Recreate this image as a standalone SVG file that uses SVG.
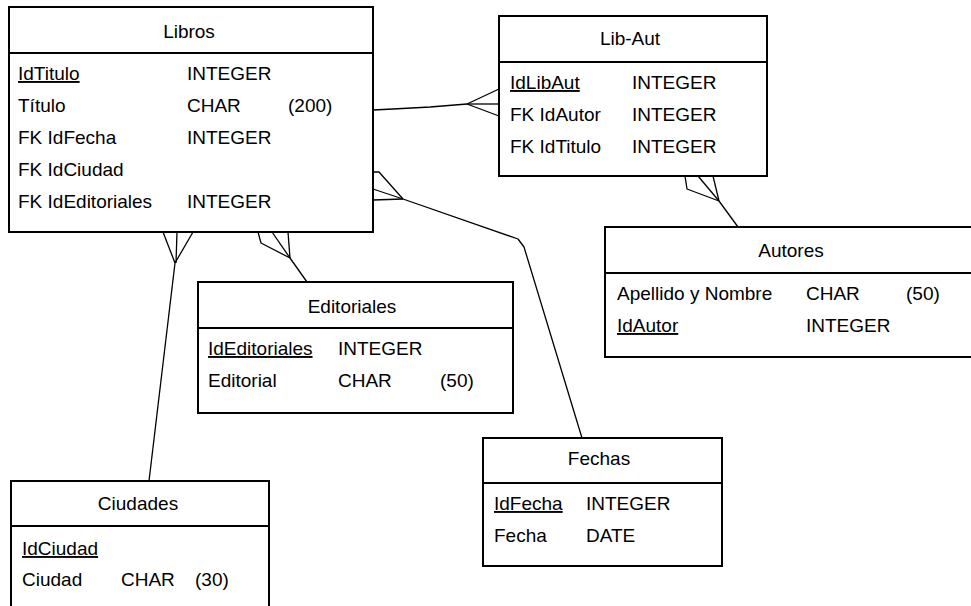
<svg xmlns="http://www.w3.org/2000/svg" width="971" height="606" viewBox="0 0 971 606">
<style>
.box{fill:#fff;stroke:#000;stroke-width:2}
.sep{stroke:#000;stroke-width:2}
.t{font-family:"Liberation Sans",Arial,sans-serif;font-size:19px;fill:#000}
.c{text-anchor:middle}
.pk{text-decoration:underline}
.cn{fill:none;stroke:#000;stroke-width:1.3;stroke-linejoin:round}
</style>
<rect width="971" height="606" fill="#fff"/>
<g id="connectors">
  <!-- Libros - Lib-Aut -->
  <polyline class="cn" points="373,110 393,109 430,107 467,104"/>
  <line class="cn" x1="467" y1="104" x2="499" y2="89"/>
  <line class="cn" x1="467" y1="104" x2="499" y2="104"/>
  <line class="cn" x1="467" y1="104" x2="499" y2="116"/>
  <!-- Lib-Aut - Autores -->
  <polyline class="cn" points="685,176 687,189 719,201"/>
  <line class="cn" x1="698" y1="176" x2="719" y2="201"/>
  <line class="cn" x1="713" y1="176" x2="719" y2="201"/>
  <line class="cn" x1="719" y1="201" x2="738" y2="227"/>
  <!-- Libros - Fechas -->
  <polyline class="cn" points="373,172 379,172 403,199"/>
  <line class="cn" x1="373" y1="189" x2="403" y2="199"/>
  <line class="cn" x1="373" y1="200" x2="403" y2="199"/>
  <polyline class="cn" points="403,199 518,239 524,247 582,438"/>
  <!-- Libros - Ciudades -->
  <line class="cn" x1="163" y1="232" x2="175" y2="263"/>
  <line class="cn" x1="177" y1="232" x2="176" y2="263"/>
  <line class="cn" x1="193" y1="232" x2="175" y2="263"/>
  <line class="cn" x1="175" y1="263" x2="149" y2="481"/>
  <!-- Libros - Editoriales -->
  <polyline class="cn" points="258,232 261,243 290,258"/>
  <line class="cn" x1="272" y1="232" x2="290" y2="258"/>
  <line class="cn" x1="288" y1="232" x2="290" y2="258"/>
  <line class="cn" x1="290" y1="258" x2="307" y2="282"/>
</g>
<g id="libros">
  <rect class="box" x="9" y="7" width="364" height="225"/>
  <line class="sep" x1="9" y1="53" x2="373" y2="53"/>
  <text class="t c" x="189" y="38">Libros</text>
  <text class="t pk" x="18" y="80">IdTitulo</text>
  <text class="t" x="187" y="80">INTEGER</text>
  <text class="t" x="18" y="112">Título</text>
  <text class="t" x="187" y="112">CHAR</text>
  <text class="t" x="288" y="112">(200)</text>
  <text class="t" x="18" y="144">FK IdFecha</text>
  <text class="t" x="187" y="144">INTEGER</text>
  <text class="t" x="18" y="176">FK IdCiudad</text>
  <text class="t" x="18" y="208">FK IdEditoriales</text>
  <text class="t" x="187" y="208">INTEGER</text>
</g>
<g id="lib-aut">
  <rect class="box" x="499" y="16" width="268" height="160"/>
  <line class="sep" x1="499" y1="62" x2="767" y2="62"/>
  <text class="t c" x="630" y="45">Lib-Aut</text>
  <text class="t pk" x="510" y="89">IdLibAut</text>
  <text class="t" x="632" y="89">INTEGER</text>
  <text class="t" x="510" y="121">FK IdAutor</text>
  <text class="t" x="632" y="121">INTEGER</text>
  <text class="t" x="510" y="153">FK IdTitulo</text>
  <text class="t" x="632" y="153">INTEGER</text>
</g>
<g id="autores">
  <rect class="box" x="605" y="227" width="380" height="130"/>
  <line class="sep" x1="605" y1="273" x2="985" y2="273"/>
  <text class="t c" x="791" y="257">Autores</text>
  <text class="t" x="617" y="300">Apellido y Nombre</text>
  <text class="t" x="806" y="300">CHAR</text>
  <text class="t" x="906" y="300">(50)</text>
  <text class="t pk" x="617" y="332">IdAutor</text>
  <text class="t" x="806" y="332">INTEGER</text>
</g>
<g id="editoriales">
  <rect class="box" x="198" y="282" width="315" height="131"/>
  <line class="sep" x1="198" y1="328" x2="513" y2="328"/>
  <text class="t c" x="352" y="313">Editoriales</text>
  <text class="t pk" x="208" y="355">IdEditoriales</text>
  <text class="t" x="338" y="355">INTEGER</text>
  <text class="t" x="208" y="387">Editorial</text>
  <text class="t" x="338" y="387">CHAR</text>
  <text class="t" x="440" y="387">(50)</text>
</g>
<g id="fechas">
  <rect class="box" x="483" y="438" width="239" height="128"/>
  <line class="sep" x1="483" y1="483" x2="722" y2="483"/>
  <text class="t c" x="599" y="465">Fechas</text>
  <text class="t pk" x="494" y="510">IdFecha</text>
  <text class="t" x="586" y="510">INTEGER</text>
  <text class="t" x="494" y="542">Fecha</text>
  <text class="t" x="586" y="542">DATE</text>
</g>
<g id="ciudades">
  <rect class="box" x="11" y="481" width="258" height="140"/>
  <line class="sep" x1="11" y1="526" x2="269" y2="526"/>
  <text class="t c" x="138" y="510">Ciudades</text>
  <text class="t pk" x="22" y="555">IdCiudad</text>
  <text class="t" x="22" y="586">Ciudad</text>
  <text class="t" x="121" y="586">CHAR</text>
  <text class="t" x="195" y="586">(30)</text>
</g>
</svg>
